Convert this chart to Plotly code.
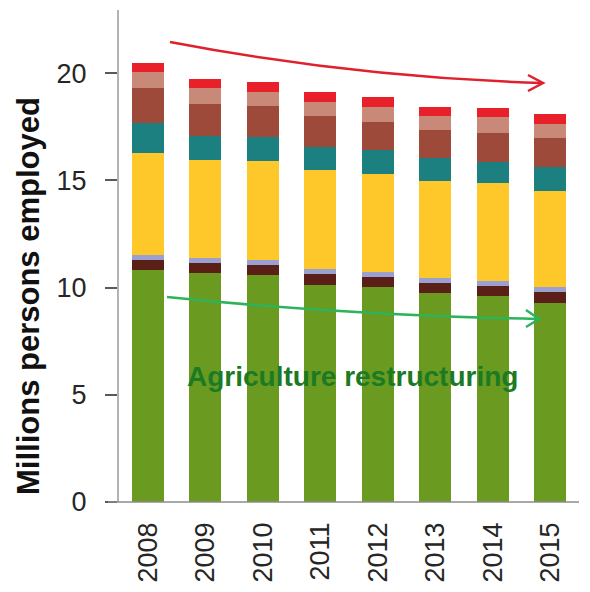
import plotly.graph_objects as go

years = ["2008", "2009", "2010", "2011", "2012", "2013", "2014", "2015"]

# stacked segments, bottom to top (millions persons employed)
agriculture = [10.82, 10.66, 10.58, 10.12, 10.04, 9.73, 9.60, 9.29]
seg_darkbrown = [0.46, 0.50, 0.47, 0.51, 0.46, 0.47, 0.47, 0.51]
seg_lavender = [0.24, 0.20, 0.23, 0.22, 0.24, 0.23, 0.25, 0.21]
seg_yellow = [4.77, 4.58, 4.63, 4.63, 4.55, 4.55, 4.54, 4.50]
seg_teal = [1.37, 1.12, 1.09, 1.08, 1.12, 1.04, 1.01, 1.09]
seg_brown = [1.63, 1.50, 1.46, 1.43, 1.32, 1.32, 1.35, 1.36]
seg_salmon = [0.77, 0.73, 0.67, 0.67, 0.70, 0.65, 0.71, 0.66]
seg_red = [0.42, 0.42, 0.47, 0.47, 0.47, 0.44, 0.42, 0.47]

y_ticks = [0, 5, 10, 15, 20]

series = [
    (agriculture, "#6a9a1f"),
    (seg_darkbrown, "#5a1f17"),
    (seg_lavender, "#9aa0d2"),
    (seg_yellow, "#fec82b"),
    (seg_teal, "#1c7f80"),
    (seg_brown, "#9e4a3a"),
    (seg_salmon, "#c98978"),
    (seg_red, "#e8202a"),
]

fig = go.Figure()
for vals, col in series:
    fig.add_trace(go.Bar(x=years, y=vals, marker=dict(color=col, line=dict(width=0)),
                         showlegend=False))

W, H = 590, 592
ML, MR, MT, MB = 119, 11, 10, 90
PW, PH = W - ML - MR, H - MT - MB


def px2paper(x, y):
    return (x - ML) / PW, (H - MB - y) / PH


def curve_path(p0, c, p2):
    a = px2paper(*p0)
    b = px2paper(*c)
    d = px2paper(*p2)
    return f"M {a[0]},{a[1]} Q {b[0]},{b[1]} {d[0]},{d[1]}"


def chevron_path(tip, arm1, arm2):
    t = px2paper(*tip)
    a = px2paper(tip[0] + arm1[0], tip[1] + arm1[1])
    b = px2paper(tip[0] + arm2[0], tip[1] + arm2[1])
    return f"M {a[0]},{a[1]} L {t[0]},{t[1]} L {b[0]},{b[1]}"


red = "#e0202c"
green = "#2db35a"
shapes = [
    dict(type="path", xref="paper", yref="paper",
         path=curve_path((170, 42), (356, 77.5), (542, 83)),
         line=dict(color=red, width=2.5)),
    dict(type="path", xref="paper", yref="paper",
         path=chevron_path((543, 83), (-15, -8), (-15, 8)),
         line=dict(color=red, width=2.5)),
    dict(type="path", xref="paper", yref="paper",
         path=curve_path((167, 297), (347.5, 315.4), (538, 319)),
         line=dict(color=green, width=2.5)),
    dict(type="path", xref="paper", yref="paper",
         path=chevron_path((539, 319), (-13, -9), (-13, 8)),
         line=dict(color=green, width=2.5)),
    dict(type="line", xref="paper", yref="paper",
         x0=(108 - ML) / PW, x1=1.0, y0=0, y1=0,
         line=dict(color="#8c8c8c", width=1.5)),
]

tx, ty = px2paper(352, 376)
yx, yy = px2paper(28, 296)
annotations = [
    dict(text="<b>Agriculture restructuring</b>", xref="paper", yref="paper",
         x=tx, y=ty, showarrow=False, xanchor="center", yanchor="middle",
         font=dict(family="Liberation Sans", size=28, color="#1b7a24")),
    dict(text="<b>Millions persons employed</b>", xref="paper", yref="paper",
         x=yx, y=yy, showarrow=False, xanchor="center", yanchor="middle",
         textangle=-90,
         font=dict(family="Liberation Sans", size=31, color="#111111")),
]

fig.update_layout(
    width=W, height=H,
    margin=dict(l=ML, r=MR, t=MT, b=MB, pad=0),
    paper_bgcolor="white", plot_bgcolor="white",
    barmode="stack", bargap=0.443,
    shapes=shapes, annotations=annotations,
    font=dict(family="Liberation Sans", color="#262626"),
)
fig.update_xaxes(
    type="category", tickangle=-90, showgrid=False, showline=False,
    ticks="", tickfont=dict(size=27, family="Liberation Sans", color="#262626"),
    ticklabelstandoff=14,
)
fig.update_yaxes(
    range=[0, 22.94], tickvals=y_ticks, showgrid=False, zeroline=False,
    showline=True, linecolor="#b3b3b3", linewidth=2,
    ticks="outside", ticklen=12, tickcolor="#595959", tickwidth=1.5,
    tickfont=dict(size=27, family="Liberation Sans", color="#262626"),
    ticklabelstandoff=13,
)

fig.write_html("out.html")
